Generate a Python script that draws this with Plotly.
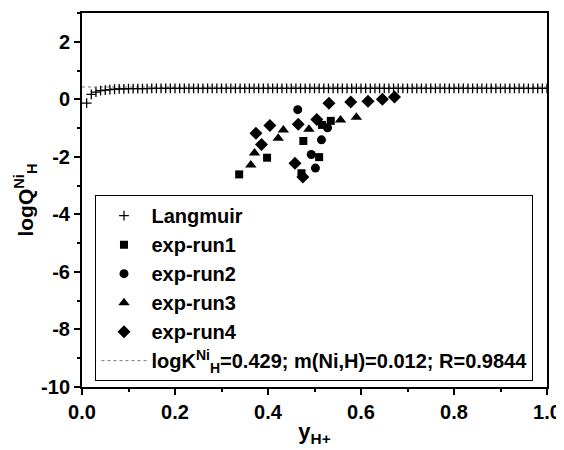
import plotly.graph_objects as go

# Langmuir model points
lang_x = [0.01, 0.02, 0.03, 0.04, 0.05, 0.06, 0.07, 0.08, 0.09, 0.10,
          0.11, 0.12, 0.13, 0.14, 0.15, 0.16, 0.17, 0.18, 0.19, 0.20,
          0.21, 0.22, 0.23, 0.24, 0.25, 0.26, 0.27, 0.28, 0.29, 0.30,
          0.31, 0.32, 0.33, 0.34, 0.35, 0.36, 0.37, 0.38, 0.39, 0.40,
          0.41, 0.42, 0.43, 0.44, 0.45, 0.46, 0.47, 0.48, 0.49, 0.50,
          0.51, 0.52, 0.53, 0.54, 0.55, 0.56, 0.57, 0.58, 0.59, 0.60,
          0.61, 0.62, 0.63, 0.64, 0.65, 0.66, 0.67, 0.68, 0.69, 0.70,
          0.71, 0.72, 0.73, 0.74, 0.75, 0.76, 0.77, 0.78, 0.79, 0.80,
          0.81, 0.82, 0.83, 0.84, 0.85, 0.86, 0.87, 0.88, 0.89, 0.90,
          0.91, 0.92, 0.93, 0.94, 0.95, 0.96, 0.97, 0.98, 0.99, 1.00]
lang_y = [-0.13, 0.17, 0.25, 0.30, 0.32, 0.34, 0.35, 0.36, 0.36, 0.37,
          0.37, 0.37, 0.37, 0.37, 0.38, 0.38, 0.38, 0.38, 0.38, 0.38,
          0.38, 0.38, 0.38, 0.38, 0.38, 0.38, 0.38, 0.38, 0.38, 0.38,
          0.38, 0.38, 0.38, 0.38, 0.38, 0.38, 0.38, 0.38, 0.38, 0.38,
          0.38, 0.38, 0.38, 0.38, 0.38, 0.38, 0.38, 0.38, 0.38, 0.38,
          0.38, 0.38, 0.38, 0.38, 0.38, 0.38, 0.38, 0.38, 0.38, 0.38,
          0.38, 0.38, 0.38, 0.38, 0.38, 0.38, 0.38, 0.38, 0.38, 0.38,
          0.38, 0.38, 0.38, 0.38, 0.38, 0.38, 0.38, 0.38, 0.38, 0.38,
          0.38, 0.38, 0.38, 0.38, 0.38, 0.38, 0.38, 0.38, 0.38, 0.38,
          0.38, 0.38, 0.38, 0.38, 0.38, 0.38, 0.38, 0.38, 0.38, 0.38]

run1_x = [0.338, 0.398, 0.476, 0.510, 0.472, 0.535, 0.516]
run1_y = [-2.61, -2.03, -1.45, -2.01, -2.57, -0.75, -0.89]

run2_x = [0.464, 0.515, 0.493, 0.502, 0.528]
run2_y = [-0.36, -1.41, -1.92, -2.39, -0.99]

run3_x = [0.363, 0.371, 0.422, 0.433, 0.488, 0.556, 0.590]
run3_y = [-2.28, -1.87, -1.35, -1.07, -1.04, -0.72, -0.62]

run4_x = [0.374, 0.404, 0.386, 0.465, 0.505, 0.458, 0.475, 0.531, 0.578, 0.615, 0.646, 0.672]
run4_y = [-1.18, -0.91, -1.57, -0.87, -0.70, -2.22, -2.70, -0.14, -0.09, -0.07, 0.00, 0.08]

fit_x = [0.0, 1.0]
fit_y = [0.429, 0.429]

x_ticks = [0.0, 0.2, 0.4, 0.6, 0.8, 1.0]
x_tick_labels = ["0.0", "0.2", "0.4", "0.6", "0.8", "1.0"]
y_ticks = [-10, -8, -6, -4, -2, 0, 2]
y_tick_labels = ["-10", "-8", "-6", "-4", "-2", "0", "2"]

FONT = "Liberation Sans, Arial, sans-serif"

fig = go.Figure()
fig.add_trace(go.Scatter(x=fit_x, y=fit_y, mode="lines", legendrank=6,
                         name="logK<sup>Ni</sup><sub>H</sub>=0.429; m(Ni,H)=0.012; R=0.9844",
                         line=dict(color="#777777", width=1, dash="dot")))
fig.add_trace(go.Scatter(x=lang_x, y=lang_y, mode="markers", name="Langmuir", legendrank=1,
                         marker=dict(symbol="cross-thin", size=7, color="black",
                                     line=dict(color="black", width=1.3))))
fig.add_trace(go.Scatter(x=run1_x, y=run1_y, mode="markers", name="exp-run1", legendrank=2,
                         marker=dict(symbol="square", size=8, color="black")))
fig.add_trace(go.Scatter(x=run2_x, y=run2_y, mode="markers", name="exp-run2", legendrank=3,
                         marker=dict(symbol="circle", size=9, color="black")))
fig.add_trace(go.Scatter(x=run3_x, y=run3_y, mode="markers", name="exp-run3", legendrank=4,
                         marker=dict(symbol="triangle-up", size=10, color="black")))
fig.add_trace(go.Scatter(x=run4_x, y=run4_y, mode="markers", name="exp-run4", legendrank=5,
                         marker=dict(symbol="diamond", size=10, color="black")))

axis_common = dict(
    showline=True, linecolor="black", linewidth=2, mirror=True,
    ticks="outside", ticklen=6, tickwidth=1.5, tickcolor="black",
    showgrid=False, zeroline=False,
    tickfont=dict(family=FONT, size=20, color="black"),
)

fig.update_xaxes(range=[0, 1.0], tickvals=x_ticks,
                 ticktext=["<b>%s</b>" % t for t in x_tick_labels],
                 minor=dict(ticks="outside", ticklen=3, dtick=0.1, tickcolor="black"),
                 title=dict(text="<b>y<sub>H+</sub></b>", standoff=2,
                            font=dict(family=FONT, size=22, color="black")),
                 **axis_common)
fig.update_yaxes(range=[-10, 3], tickvals=y_ticks,
                 ticktext=["<b>%s</b>" % t for t in y_tick_labels],
                 minor=dict(ticks="outside", ticklen=3, dtick=1, tickcolor="black"),
                 title=dict(text="<b>logQ<sup>Ni</sup><sub>H</sub></b>", standoff=2,
                            font=dict(family=FONT, size=21, color="black")),
                 **axis_common)

# page body has an 8px default margin, so the figure is 8px smaller than the window
fig.update_layout(
    width=556, height=442,
    margin=dict(l=74, r=16, t=3, b=63),
    paper_bgcolor="white", plot_bgcolor="white",
    showlegend=True,
    legend=dict(x=0.029, y=0.513, xanchor="left", yanchor="top",
                bgcolor="white", bordercolor="black", borderwidth=1,
                font=dict(family=FONT, size=20, color="black", weight="bold"),
                tracegroupgap=0, itemsizing="trace", itemwidth=45),
)

fig.write_html("out.html")
